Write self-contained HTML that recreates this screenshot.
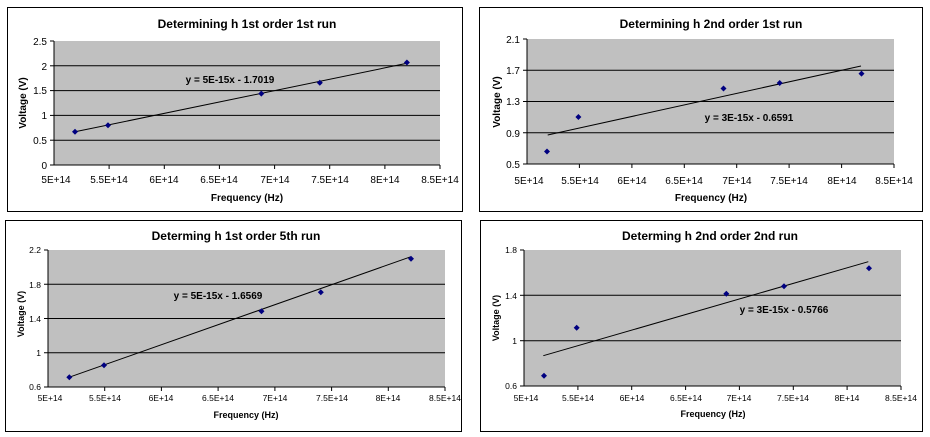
<!DOCTYPE html>
<html><head><meta charset="utf-8"><style>
html,body{margin:0;padding:0;background:#fff;width:930px;height:437px;overflow:hidden}
svg{display:block}
text{font-family:"Liberation Sans",Arial,sans-serif;fill:#000}
.t{font-weight:bold;font-size:12px}
.tk{font-size:10px}
.tk2{font-size:8.5px}
.ax{font-weight:bold;font-size:10px}
.ax2{font-weight:bold;font-size:9px}
.eq{font-weight:bold;font-size:10px}
</style></head><body>
<svg width="930" height="437" viewBox="0 0 930 437" xmlns="http://www.w3.org/2000/svg">
<defs><path id="d" d="M0,-3 L3,0 L0,3 L-3,0 Z" fill="#000080"/></defs>

<!-- Chart 1 -->
<rect x="7.5" y="7.5" width="455" height="204" fill="#fff" stroke="#000" stroke-width="1"/>
<text class="t" x="247" y="28" text-anchor="middle">Determining h 1st order 1st run</text>
<rect x="54" y="41" width="386" height="124" fill="#c0c0c0"/>
<g stroke="#000" stroke-width="1">
<line x1="54" x2="440" y1="140.2" y2="140.2"/><line x1="54" x2="440" y1="115.4" y2="115.4"/>
<line x1="54" x2="440" y1="90.6" y2="90.6"/><line x1="54" x2="440" y1="65.8" y2="65.8"/>
<line x1="54" x2="54" y1="41" y2="165"/><line x1="50" x2="440" y1="165" y2="165"/>
<line x1="50" x2="54" y1="41" y2="41"/><line x1="50" x2="54" y1="65.8" y2="65.8"/><line x1="50" x2="54" y1="90.6" y2="90.6"/><line x1="50" x2="54" y1="115.4" y2="115.4"/><line x1="50" x2="54" y1="140.2" y2="140.2"/>
<line x1="109.1" x2="109.1" y1="165" y2="169"/><line x1="164.3" x2="164.3" y1="165" y2="169"/><line x1="219.4" x2="219.4" y1="165" y2="169"/><line x1="274.6" x2="274.6" y1="165" y2="169"/><line x1="329.7" x2="329.7" y1="165" y2="169"/><line x1="384.9" x2="384.9" y1="165" y2="169"/><line x1="440" x2="440" y1="165" y2="169"/>
<line x1="75" y1="131.8" x2="407" y2="63.3"/>
</g>
<g class="tk" text-anchor="end"><text class="tk" x="47" y="169">0</text><text class="tk" x="47" y="144">0.5</text><text class="tk" x="47" y="119">1</text><text class="tk" x="47" y="94">1.5</text><text class="tk" x="47" y="70">2</text><text class="tk" x="47" y="45">2.5</text></g>
<g text-anchor="middle"><text class="tk" x="56" y="183">5E+14</text><text class="tk" x="109" y="183">5.5E+14</text><text class="tk" x="164" y="183">6E+14</text><text class="tk" x="219" y="183">6.5E+14</text><text class="tk" x="275" y="183">7E+14</text><text class="tk" x="330" y="183">7.5E+14</text><text class="tk" x="385" y="183">8E+14</text><text class="tk" x="440" y="183">8.5E+14</text></g>
<text class="ax" x="247" y="201" text-anchor="middle">Frequency (Hz)</text>
<text class="ax" transform="translate(26,103) rotate(-90)" text-anchor="middle">Voltage (V)</text>
<text class="eq" x="230" y="83" text-anchor="middle">y = 5E-15x - 1.7019</text>
<use href="#d" x="75" y="131.8"/><use href="#d" x="108" y="125.3"/><use href="#d" x="261.3" y="93.6"/><use href="#d" x="319.8" y="82.7"/><use href="#d" x="406.9" y="62.5"/>

<!-- Chart 2 -->
<rect x="479.5" y="7.5" width="443" height="204" fill="#fff" stroke="#000"/>
<text class="t" x="711" y="28" text-anchor="middle">Determining h 2nd order 1st run</text>
<rect x="527" y="39" width="367" height="125" fill="#c0c0c0"/>
<g stroke="#000">
<line x1="527" x2="894" y1="132.75" y2="132.75"/><line x1="527" x2="894" y1="101.5" y2="101.5"/><line x1="527" x2="894" y1="70.25" y2="70.25"/>
<line x1="527" x2="527" y1="39" y2="164"/><line x1="523" x2="894" y1="164" y2="164"/>
<line x1="523" x2="527" y1="39" y2="39"/><line x1="523" x2="527" y1="70.25" y2="70.25"/><line x1="523" x2="527" y1="101.5" y2="101.5"/><line x1="523" x2="527" y1="132.75" y2="132.75"/>
<line x1="579.4" x2="579.4" y1="164" y2="168"/><line x1="631.9" x2="631.9" y1="164" y2="168"/><line x1="684.3" x2="684.3" y1="164" y2="168"/><line x1="736.7" x2="736.7" y1="164" y2="168"/><line x1="789.1" x2="789.1" y1="164" y2="168"/><line x1="841.6" x2="841.6" y1="164" y2="168"/><line x1="894" x2="894" y1="164" y2="168"/>
<line x1="547.7" y1="135" x2="861" y2="66"/>
</g>
<g text-anchor="end"><text class="tk" x="520" y="168">0.5</text><text class="tk" x="520" y="137">0.9</text><text class="tk" x="520" y="105">1.3</text><text class="tk" x="520" y="74">1.7</text><text class="tk" x="520" y="43">2.1</text></g>
<g text-anchor="middle"><text class="tk" x="529" y="184">5E+14</text><text class="tk" x="580" y="184">5.5E+14</text><text class="tk" x="632" y="184">6E+14</text><text class="tk" x="684" y="184">6.5E+14</text><text class="tk" x="737" y="184">7E+14</text><text class="tk" x="789" y="184">7.5E+14</text><text class="tk" x="842" y="184">8E+14</text><text class="tk" x="894" y="184">8.5E+14</text></g>
<text class="ax" x="711" y="201" text-anchor="middle">Frequency (Hz)</text>
<text class="ax" transform="translate(500,102) rotate(-90)" text-anchor="middle">Voltage (V)</text>
<text class="eq" x="749" y="121" text-anchor="middle">y = 3E-15x - 0.6591</text>
<use href="#d" x="547" y="151.5"/><use href="#d" x="578.4" y="117"/><use href="#d" x="723.5" y="88.5"/><use href="#d" x="779.7" y="83"/><use href="#d" x="861.5" y="73.6"/>

<!-- Chart 3 -->
<rect x="5.5" y="220.5" width="456" height="211" fill="#fff" stroke="#000"/>
<text class="t" x="236" y="240" text-anchor="middle">Determing h 1st order 5th run</text>
<rect x="48" y="250" width="397" height="137" fill="#c0c0c0"/>
<g stroke="#000">
<line x1="48" x2="445" y1="352.75" y2="352.75"/><line x1="48" x2="445" y1="318.5" y2="318.5"/><line x1="48" x2="445" y1="284.25" y2="284.25"/>
<line x1="48" x2="48" y1="250" y2="387"/><line x1="44" x2="445" y1="387" y2="387"/>
<line x1="44" x2="48" y1="250" y2="250"/><line x1="44" x2="48" y1="284.25" y2="284.25"/><line x1="44" x2="48" y1="318.5" y2="318.5"/><line x1="44" x2="48" y1="352.75" y2="352.75"/>
<line x1="104.7" x2="104.7" y1="387" y2="391"/><line x1="161.4" x2="161.4" y1="387" y2="391"/><line x1="218.1" x2="218.1" y1="387" y2="391"/><line x1="274.9" x2="274.9" y1="387" y2="391"/><line x1="331.6" x2="331.6" y1="387" y2="391"/><line x1="388.3" x2="388.3" y1="387" y2="391"/><line x1="445" x2="445" y1="387" y2="391"/>
<line x1="69" y1="377.3" x2="411" y2="256.7"/>
</g>
<g text-anchor="end"><text class="tk2" x="41" y="390">0.6</text><text class="tk2" x="41" y="356">1</text><text class="tk2" x="41" y="322">1.4</text><text class="tk2" x="41" y="288">1.8</text><text class="tk2" x="41" y="253">2.2</text></g>
<g text-anchor="middle"><text class="tk2" x="50" y="401">5E+14</text><text class="tk2" x="105" y="401">5.5E+14</text><text class="tk2" x="161" y="401">6E+14</text><text class="tk2" x="218" y="401">6.5E+14</text><text class="tk2" x="275" y="401">7E+14</text><text class="tk2" x="332" y="401">7.5E+14</text><text class="tk2" x="388" y="401">8E+14</text><text class="tk2" x="445" y="401">8.5E+14</text></g>
<text class="ax2" x="246" y="418" text-anchor="middle">Frequency (Hz)</text>
<text class="ax2" transform="translate(24,314) rotate(-90)" text-anchor="middle">Voltage (V)</text>
<text class="eq" x="218" y="299" text-anchor="middle">y = 5E-15x - 1.6569</text>
<use href="#d" x="69.3" y="377.3"/><use href="#d" x="104" y="365.3"/><use href="#d" x="261.5" y="311.3"/><use href="#d" x="320.8" y="292.3"/><use href="#d" x="411" y="258.7"/>

<!-- Chart 4 -->
<rect x="480.5" y="220.5" width="442" height="211" fill="#fff" stroke="#000"/>
<text class="t" x="710" y="240" text-anchor="middle">Determing h 2nd order 2nd run</text>
<rect x="524" y="250" width="377" height="136" fill="#c0c0c0"/>
<g stroke="#000">
<line x1="524" x2="901" y1="340.7" y2="340.7"/><line x1="524" x2="901" y1="295.3" y2="295.3"/>
<line x1="524" x2="524" y1="250" y2="386"/><line x1="520" x2="901" y1="386" y2="386"/>
<line x1="520" x2="524" y1="250" y2="250"/><line x1="520" x2="524" y1="295.3" y2="295.3"/><line x1="520" x2="524" y1="340.7" y2="340.7"/>
<line x1="577.9" x2="577.9" y1="386" y2="390"/><line x1="631.7" x2="631.7" y1="386" y2="390"/><line x1="685.6" x2="685.6" y1="386" y2="390"/><line x1="739.4" x2="739.4" y1="386" y2="390"/><line x1="793.3" x2="793.3" y1="386" y2="390"/><line x1="847.1" x2="847.1" y1="386" y2="390"/><line x1="901" x2="901" y1="386" y2="390"/>
<line x1="543.3" y1="355.7" x2="868.3" y2="261.7"/>
</g>
<g text-anchor="end"><text class="tk2" x="517" y="389">0.6</text><text class="tk2" x="517" y="344">1</text><text class="tk2" x="517" y="299">1.4</text><text class="tk2" x="517" y="253">1.8</text></g>
<g text-anchor="middle"><text class="tk2" x="526" y="401">5E+14</text><text class="tk2" x="578" y="401">5.5E+14</text><text class="tk2" x="632" y="401">6E+14</text><text class="tk2" x="686" y="401">6.5E+14</text><text class="tk2" x="739" y="401">7E+14</text><text class="tk2" x="793" y="401">7.5E+14</text><text class="tk2" x="847" y="401">8E+14</text><text class="tk2" x="901" y="401">8.5E+14</text></g>
<text class="ax2" x="713" y="417" text-anchor="middle">Frequency (Hz)</text>
<text class="ax2" transform="translate(499,318) rotate(-90)" text-anchor="middle">Voltage (V)</text>
<text class="eq" x="784" y="313" text-anchor="middle">y = 3E-15x - 0.5766</text>
<use href="#d" x="544" y="375.7"/><use href="#d" x="576.7" y="327.7"/><use href="#d" x="726.3" y="293.7"/><use href="#d" x="784" y="286.3"/><use href="#d" x="869" y="268.3"/>
</svg>
</body></html>
